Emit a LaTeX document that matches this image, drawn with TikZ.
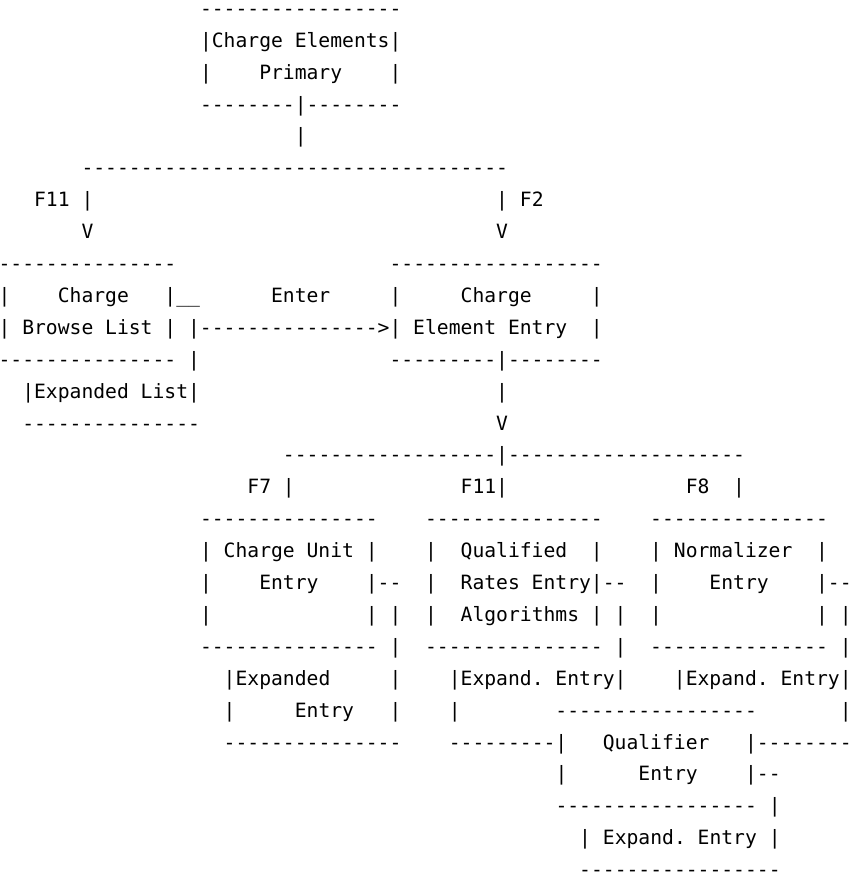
\documentclass[tikz,border=0pt]{standalone}
\usepackage{fontspec}
\setmonofont{DejaVu Sans Mono}
\newlength\charw
\setlength\charw{11.8484pt}
\newcommand\gap[1]{\hspace*{#1\charw}}

\begin{document}
\begin{tikzpicture}[x=11.85pt,y=31.9pt,
  ascii/.style={anchor=base west,inner sep=0pt,outer sep=0pt,
    font=\ttfamily\fontsize{19.68pt}{20pt}\selectfont}]
  \useasboundingbox (1.43pt,-16.6pt) rectangle (853.43pt,-894.6pt);

  \node[ascii] (r1) at (17,-1) {-----------------};
  \node[ascii] (r2) at (17,-2) {|Charge~Elements|};
  \node[ascii] (r3) at (17,-3) {|~~~~Primary~~~~|};
  \node[ascii] (r4) at (17,-4) {--------|--------};
  \node[ascii] (r5) at (25,-5) {|};
  \node[ascii] (r6) at (7,-6) {------------------------------------};
  \node[ascii] (r7) at (3,-7) {F11~|\gap{34}|~F2};
  \node[ascii] (r8) at (7,-8) {V\gap{34}V};
  \node[ascii] (r9) at (0,-9) {---------------\gap{18}------------------};
  \node[ascii] (r10) at (0,-10) {|~~~~Charge~~~|\_\_\gap{6}Enter~~~~~|~~~~~Charge~~~~~|};
  \node[ascii] (r11) at (0,-11) {|~Browse~List~|~|--------------->|~Element~Entry~~|};
  \node[ascii] (r12) at (0,-12) {---------------~|\gap{16}---------|--------};
  \node[ascii] (r13) at (2,-13) {|Expanded~List|\gap{25}|};
  \node[ascii] (r14) at (2,-14) {---------------\gap{25}V};
  \node[ascii] (r15) at (24,-15) {------------------|--------------------};
  \node[ascii] (r16) at (21,-16) {F7~|\gap{14}F11|\gap{15}F8~~|};
  \node[ascii] (r17) at (17,-17) {---------------~~~~---------------~~~~---------------};
  \node[ascii] (r18) at (17,-18) {|~Charge~Unit~|~~~~|~~Qualified~~|~~~~|~Normalizer~~|};
  \node[ascii] (r19) at (17,-19) {|~~~~Entry~~~~|--~~|~~Rates~Entry|--~~|~~~~Entry~~~~|--};
  \node[ascii] (r20) at (17,-20) {|\gap{13}|~|~~|~~Algorithms~|~|~~|\gap{13}|~|};
  \node[ascii] (r21) at (17,-21) {---------------~|~~---------------~|~~---------------~|};
  \node[ascii] (r22) at (19,-22) {|Expanded~~~~~|~~~~|Expand.~Entry|~~~~|Expand.~Entry|};
  \node[ascii] (r23) at (19,-23) {|~~~~~Entry~~~|~~~~|\gap{8}-----------------\gap{7}|};
  \node[ascii] (r24) at (19,-24) {---------------~~~~---------|~~~Qualifier~~~|--------};
  \node[ascii] (r25) at (47,-25) {|~~~~~~Entry~~~~|--};
  \node[ascii] (r26) at (47,-26) {-----------------~|};
  \node[ascii] (r27) at (49,-27) {|~Expand.~Entry~|};
  \node[ascii] (r28) at (49,-28) {-----------------};
\end{tikzpicture}
\end{document}
